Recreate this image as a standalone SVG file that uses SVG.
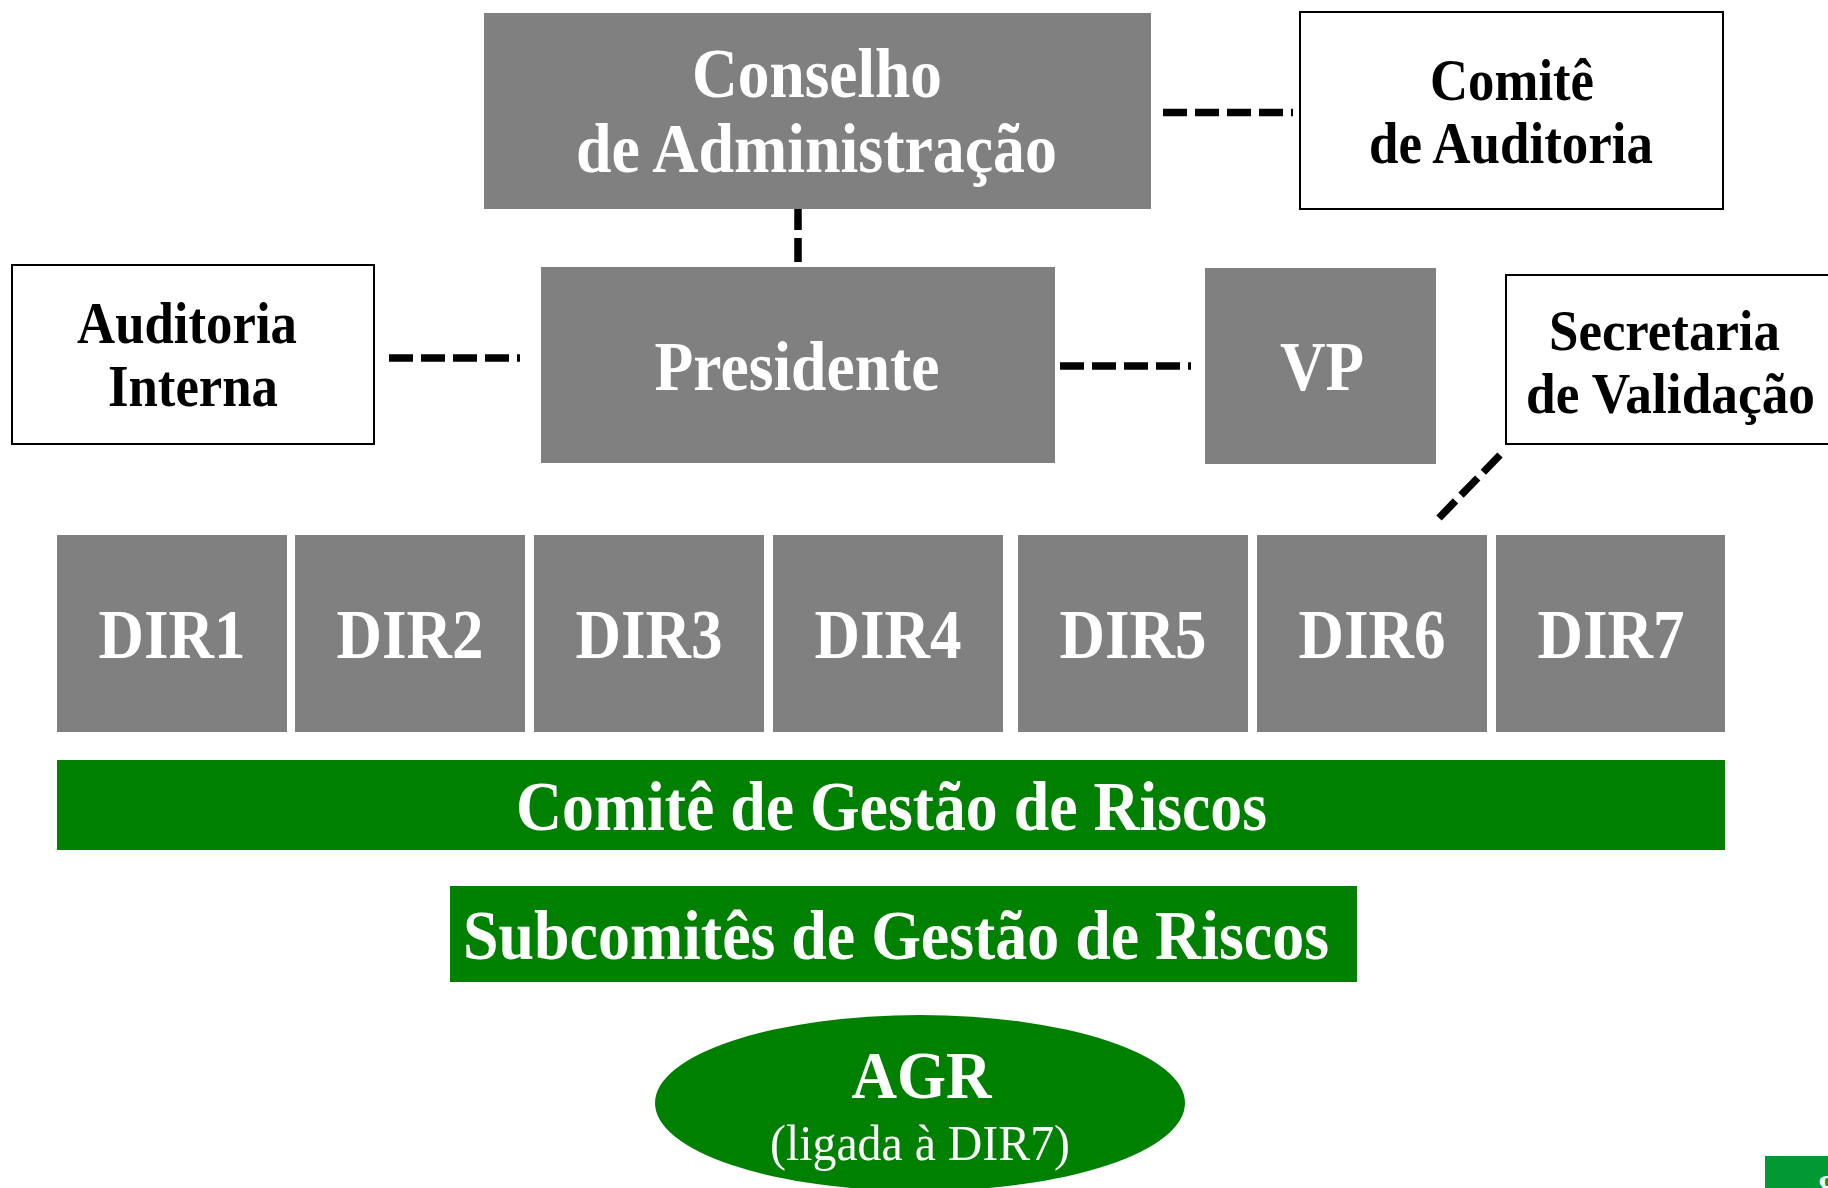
<svg xmlns="http://www.w3.org/2000/svg" width="1828" height="1188" viewBox="0 0 1828 1188">
<style>
  .gray { fill: #808080; }
  .white { fill: #ffffff; stroke: #000000; stroke-width: 2; }
  .green { fill: #008000; }
  .tw { font-family: "Liberation Serif", "Times New Roman", serif; font-weight: bold; fill: #ffffff; text-anchor: middle; }
  .tb { font-family: "Liberation Serif", "Times New Roman", serif; font-weight: bold; fill: #000000; text-anchor: middle; }
  .tr { font-family: "Liberation Serif", "Times New Roman", serif; font-weight: normal; fill: #ffffff; text-anchor: middle; }
  .dash { stroke: #000000; stroke-width: 7.5; stroke-dasharray: 24 8; fill: none; stroke-linecap: butt; }
</style>
<rect x="0" y="0" width="1828" height="1188" fill="#ffffff"/>

<g id="connectors">
  <line class="dash" x1="1163" y1="112.5" x2="1293" y2="112.5"/>
  <line class="dash" x1="798" y1="206" x2="798" y2="262"/>
  <line class="dash" x1="389" y1="358" x2="520" y2="358"/>
  <line class="dash" x1="1060" y1="366" x2="1191" y2="366"/>
  <line class="dash" x1="1500" y1="455" x2="1439" y2="518"/>
</g>

<g id="conselho">
  <rect class="gray" x="484" y="13" width="667" height="196"/>
  <text class="tw" x="817" y="97" font-size="70" textLength="250" lengthAdjust="spacingAndGlyphs">Conselho</text>
  <text class="tw" x="816.5" y="172" font-size="70" textLength="481" lengthAdjust="spacingAndGlyphs">de Administração</text>
</g>

<g id="comite-auditoria">
  <rect class="white" x="1300" y="12" width="423" height="197"/>
  <text class="tb" x="1512" y="100" font-size="59" textLength="164" lengthAdjust="spacingAndGlyphs">Comitê</text>
  <text class="tb" x="1511" y="163" font-size="59" textLength="284" lengthAdjust="spacingAndGlyphs">de Auditoria</text>
</g>

<g id="auditoria-interna">
  <rect class="white" x="12" y="265" width="362" height="179"/>
  <text class="tb" x="187" y="343" font-size="59" textLength="220" lengthAdjust="spacingAndGlyphs">Auditoria</text>
  <text class="tb" x="193" y="406" font-size="59" textLength="170" lengthAdjust="spacingAndGlyphs">Interna</text>
</g>

<g id="presidente">
  <rect class="gray" x="541" y="267" width="514" height="196"/>
  <text class="tw" x="797" y="390" font-size="70" textLength="285" lengthAdjust="spacingAndGlyphs">Presidente</text>
</g>

<g id="vp">
  <rect class="gray" x="1205" y="268" width="231" height="196"/>
  <text class="tw" x="1322" y="390" font-size="70" textLength="84" lengthAdjust="spacingAndGlyphs">VP</text>
</g>

<g id="secretaria-validacao">
  <rect class="white" x="1506" y="275" width="340" height="169"/>
  <text class="tb" x="1664.5" y="350" font-size="58" textLength="231" lengthAdjust="spacingAndGlyphs">Secretaria</text>
  <text class="tb" x="1670.5" y="413" font-size="58" textLength="289" lengthAdjust="spacingAndGlyphs">de Validação</text>
</g>

<g id="dir1">
  <rect class="gray" x="57" y="535" width="230" height="197"/>
  <text class="tw" x="172" y="658" font-size="70" textLength="147" lengthAdjust="spacingAndGlyphs">DIR1</text>
</g>
<g id="dir2">
  <rect class="gray" x="295" y="535" width="230" height="197"/>
  <text class="tw" x="410" y="658" font-size="70" textLength="147" lengthAdjust="spacingAndGlyphs">DIR2</text>
</g>
<g id="dir3">
  <rect class="gray" x="534" y="535" width="230" height="197"/>
  <text class="tw" x="649" y="658" font-size="70" textLength="147" lengthAdjust="spacingAndGlyphs">DIR3</text>
</g>
<g id="dir4">
  <rect class="gray" x="773" y="535" width="230" height="197"/>
  <text class="tw" x="888" y="658" font-size="70" textLength="147" lengthAdjust="spacingAndGlyphs">DIR4</text>
</g>
<g id="dir5">
  <rect class="gray" x="1018" y="535" width="230" height="197"/>
  <text class="tw" x="1133" y="658" font-size="70" textLength="147" lengthAdjust="spacingAndGlyphs">DIR5</text>
</g>
<g id="dir6">
  <rect class="gray" x="1257" y="535" width="230" height="197"/>
  <text class="tw" x="1372" y="658" font-size="70" textLength="147" lengthAdjust="spacingAndGlyphs">DIR6</text>
</g>
<g id="dir7">
  <rect class="gray" x="1496" y="535" width="229" height="197"/>
  <text class="tw" x="1611" y="658" font-size="70" textLength="147" lengthAdjust="spacingAndGlyphs">DIR7</text>
</g>

<g id="comite-gestao-riscos">
  <rect class="green" x="57" y="760" width="1668" height="90"/>
  <text class="tw" x="891.5" y="830" font-size="70" textLength="751" lengthAdjust="spacingAndGlyphs">Comitê de Gestão de Riscos</text>
</g>

<g id="subcomites">
  <rect class="green" x="450" y="886" width="907" height="96"/>
  <text class="tw" x="896" y="959" font-size="70" textLength="866" lengthAdjust="spacingAndGlyphs">Subcomitês de Gestão de Riscos</text>
</g>

<g id="agr">
  <ellipse class="green" cx="920" cy="1103" rx="265" ry="88"/>
  <text class="tw" x="921.5" y="1098" font-size="68" textLength="140" lengthAdjust="spacingAndGlyphs">AGR</text>
  <text class="tr" x="920" y="1160" font-size="50" textLength="300" lengthAdjust="spacingAndGlyphs">(ligada à DIR7)</text>
</g>

<g id="page-number">
  <rect x="1765" y="1156" width="70" height="40" fill="#009933"/>
  <text x="1818" y="1200" font-family="'Liberation Serif', 'Times New Roman', serif" font-weight="bold" font-size="36" fill="#ffffff">8</text>
</g>
</svg>
